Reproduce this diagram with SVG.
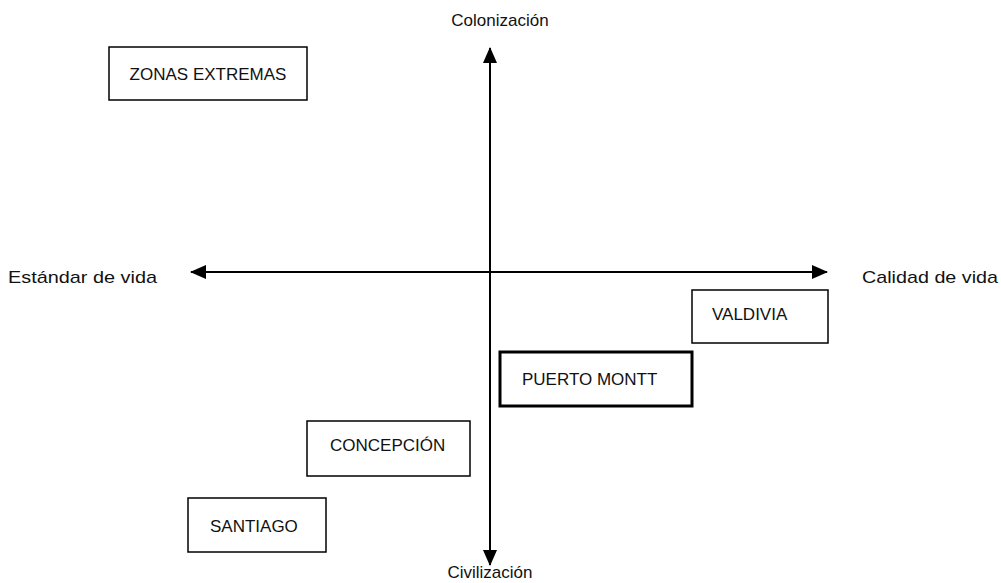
<svg xmlns="http://www.w3.org/2000/svg" width="1001" height="583" viewBox="0 0 1001 583">
<style>
.t{font-family:"Liberation Sans",Arial,sans-serif;font-size:17px;fill:#111}
.b{fill:#fff;stroke:#000;stroke-width:1.5}
.bb{fill:#fff;stroke:#000;stroke-width:3}
.ax{stroke:#000;stroke-width:2;fill:none}
</style>
<defs>
<marker id="ah" viewBox="0 0 16 14" refX="15" refY="7" markerWidth="16" markerHeight="14" markerUnits="userSpaceOnUse" orient="auto-start-reverse">
<path d="M0,0 L16,7 L0,14 z" fill="#000"/>
</marker>
</defs>
<rect width="1001" height="583" fill="#fff"/>
<g id="connectors">
<path class="ax" d="M490,565 L490,48" marker-start="url(#ah)" marker-end="url(#ah)"/>
<path class="ax" d="M191,272 L827,272" marker-start="url(#ah)" marker-end="url(#ah)"/>
</g>
<g id="axis-labels">
<text class="t" x="500" y="26" text-anchor="middle">Colonización</text>
<text class="t" x="490" y="578" text-anchor="middle">Civilización</text>
<text class="t" x="8" y="283" textLength="149" lengthAdjust="spacingAndGlyphs">Estándar de vida</text>
<text class="t" x="862" y="283" textLength="136" lengthAdjust="spacingAndGlyphs">Calidad de vida</text>
</g>
<g id="zonas-extremas">
<rect class="b" x="109" y="47" width="198" height="53"/>
<text class="t" x="208" y="80" text-anchor="middle">ZONAS EXTREMAS</text>
</g>
<g id="valdivia">
<rect class="b" x="692" y="290" width="136" height="53"/>
<text class="t" x="712" y="320">VALDIVIA</text>
</g>
<g id="puerto-montt">
<rect class="bb" x="500" y="352" width="192" height="54"/>
<text class="t" x="522" y="385">PUERTO MONTT</text>
</g>
<g id="concepcion">
<rect class="b" x="307" y="421" width="163" height="55"/>
<text class="t" x="330" y="451">CONCEPCIÓN</text>
</g>
<g id="santiago">
<rect class="b" x="188" y="498" width="138" height="54"/>
<text class="t" x="210" y="532">SANTIAGO</text>
</g>
</svg>
